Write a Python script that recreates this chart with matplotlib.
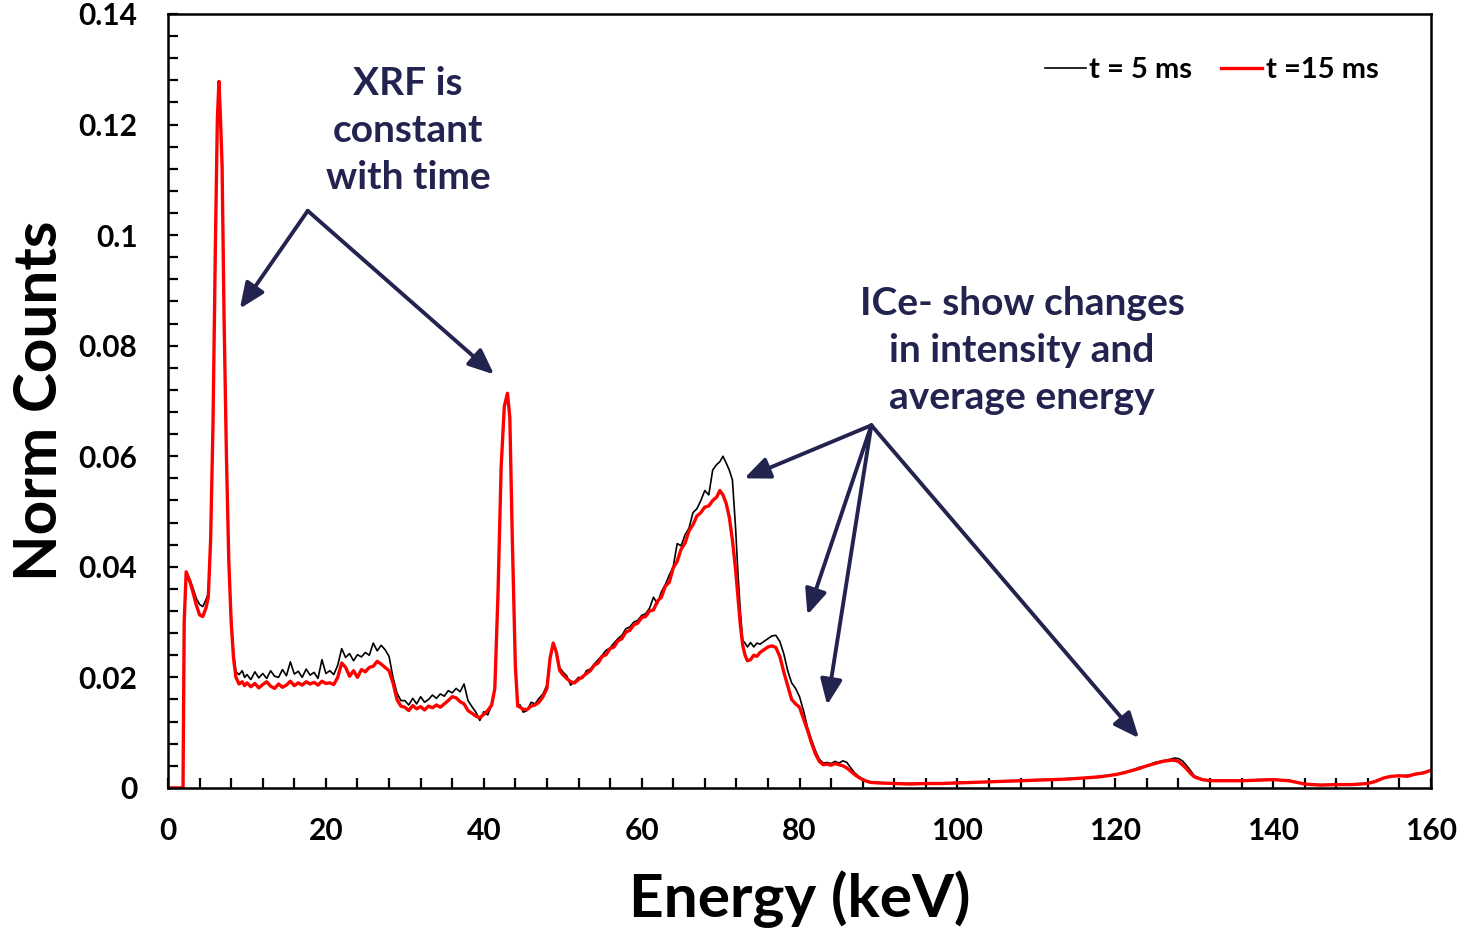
import numpy as np
import matplotlib.pyplot as plt
from matplotlib.ticker import MultipleLocator, FuncFormatter

plt.rcParams['font.family'] = ['Lato', 'DejaVu Sans']
plt.rcParams['font.weight'] = 'bold'
plt.rcParams['axes.labelweight'] = 'bold'

# spectrum channels (keV) and normalised counts for the two exposure times
energy_kev = [
    0.0, 1.9, 2.05, 2.3, 2.8, 3.2, 3.6, 4.0, 4.4, 4.8, 5.1, 5.4, 5.7, 6.0, 6.25, 6.45, 6.65, 6.85, 7.1, 7.4,
    7.7, 8.0, 8.3, 8.6, 9.0, 9.4, 9.7,
    10.0, 10.5, 11.0, 11.5, 12.0, 12.5, 13.0, 13.5, 14.0, 14.5, 15.0, 15.5, 16.0, 16.5, 17.0, 17.5, 18.0, 18.5,
    19.0, 19.5, 20.0, 20.5, 21.0, 21.5, 22.0, 22.5, 23.0, 23.5, 24.0, 24.5, 25.0, 25.5, 26.0, 26.5, 27.0, 27.5,
    28.0, 28.5, 29.0, 29.5,
    30.0, 30.5, 31.0, 31.5, 32.0, 32.5, 33.0, 33.5, 34.0, 34.5, 35.0, 35.5, 36.0, 36.5, 37.0, 37.5, 38.0, 38.5,
    39.0, 39.5, 40.0, 40.5, 41.0,
    41.4, 41.8, 42.2, 42.6, 43.0, 43.3, 43.6, 44.0, 44.3, 44.6, 45.0,
    45.5, 46.0, 46.5, 47.0, 47.5, 48.0, 48.4, 48.8, 49.2, 49.6, 50.0, 50.5, 51.0, 51.5, 52.0, 52.5, 53.0,
    53.5, 54.0, 54.5, 55.0, 55.5, 56.0, 56.5, 57.0, 57.5, 58.0, 58.5, 59.0, 59.5, 60.0, 60.5, 61.0, 61.5, 62.0,
    62.5, 63.0, 63.5, 64.0, 64.5, 65.0, 65.5, 66.0, 66.5, 67.0, 67.5, 68.0, 68.5, 69.0, 69.5,
    69.9, 70.3, 70.7, 71.1, 71.5, 71.9, 72.2, 72.5, 72.8, 73.1, 73.4, 73.8, 74.2, 74.6,
    75.0, 75.5, 76.0, 76.5, 77.0, 77.5, 78.0, 78.5, 79.0, 79.5, 80.0, 80.5, 81.0, 81.5, 82.0, 82.5, 83.0, 83.5,
    84.0, 84.5, 85.0, 85.5, 86.0, 86.5, 87.0, 87.5, 88.0, 88.5, 89.0,
    90, 92, 94, 96, 98, 100, 102, 104, 106, 108, 110, 112, 114, 116, 118, 120, 121, 122, 123, 124, 125, 126,
    127, 127.5, 128, 128.5, 129, 129.5, 130, 131, 132, 134, 136, 138, 140, 142, 144, 146, 148, 150, 152, 153,
    154, 155, 156, 157, 158, 159, 160,
]

counts_5ms = [
    0, 0, 0.0300, 0.0391, 0.0376, 0.0360, 0.0342, 0.0332, 0.0328, 0.0340, 0.0352, 0.0450, 0.0660, 0.0980,
    0.1210, 0.1278, 0.1210, 0.1125, 0.0850, 0.0600, 0.0410, 0.0310, 0.0245, 0.0210, 0.0205, 0.0212, 0.0200,
    0.0205, 0.0196, 0.0210, 0.0199, 0.0207, 0.0198, 0.0212, 0.0202, 0.0200, 0.0214,
    0.0203, 0.0228, 0.0206, 0.0211, 0.0200, 0.0215, 0.0204, 0.0209, 0.0198, 0.0232,
    0.0207, 0.0212, 0.0205, 0.0222, 0.0252, 0.0236, 0.0243, 0.0230, 0.0241, 0.0237,
    0.0245, 0.0240, 0.0262, 0.0248, 0.0258, 0.0250, 0.0238, 0.0200, 0.0172, 0.0158,
    0.0158, 0.0150, 0.0162, 0.0152, 0.0165, 0.0155, 0.0160, 0.0168, 0.0162, 0.0170,
    0.0166, 0.0176, 0.0172, 0.0180, 0.0174, 0.0188, 0.0158, 0.0147, 0.0137, 0.0122,
    0.0138, 0.0132, 0.0150,
    0.0180, 0.0350, 0.0580, 0.0690, 0.0714, 0.0670, 0.0460, 0.0220, 0.0150, 0.0150, 0.0137,
    0.0140, 0.0155, 0.0152, 0.0162, 0.0170, 0.0186, 0.0235, 0.0262, 0.0245, 0.0218, 0.0210, 0.0203, 0.0186,
    0.0192, 0.0200, 0.0198, 0.0212,
    0.0215, 0.0224, 0.0232, 0.0240, 0.0249, 0.0253, 0.0262, 0.0270, 0.0276, 0.0288,
    0.0291, 0.0300, 0.0303, 0.0312, 0.0315, 0.0325, 0.0345, 0.0333, 0.0355, 0.0368,
    0.0385, 0.0400, 0.0442, 0.0438, 0.0458, 0.0470, 0.0498, 0.0505, 0.0520, 0.0538,
    0.0530, 0.0575, 0.0585,
    0.0590, 0.0600, 0.0588, 0.0575, 0.0557, 0.0470, 0.0388, 0.0320, 0.0267, 0.0262, 0.0255, 0.0263, 0.0255,
    0.0262,
    0.0260, 0.0265, 0.0270, 0.0275, 0.0276, 0.0265, 0.0243, 0.0212, 0.0190, 0.0180,
    0.0165, 0.0140, 0.0110, 0.0088, 0.0068, 0.0052, 0.0045, 0.0046, 0.0044, 0.0048,
    0.0045, 0.0049, 0.0046, 0.0036, 0.0027, 0.0021, 0.0016, 0.0013, 0.0011,
    0.0010, 0.0008, 0.0008, 0.0009, 0.0008, 0.0010, 0.0011, 0.0011, 0.0013, 0.0013,
    0.0015, 0.0015, 0.0017, 0.0018, 0.0021,
    0.0024, 0.0028, 0.0031, 0.0037, 0.0040, 0.0046, 0.0049, 0.0052,
    0.0054, 0.0053, 0.0049, 0.0041, 0.0032, 0.0022, 0.0016, 0.0013,
    0.0014, 0.0013, 0.0015, 0.0015, 0.0014, 0.0007, 0.0006, 0.0006, 0.0007, 0.0008,
    0.0013, 0.0018, 0.0022, 0.0021, 0.0023, 0.0024, 0.0028, 0.0032,
]

counts_15ms = [
    0, 0, 0.0300, 0.0391, 0.0372, 0.0352, 0.0330, 0.0313, 0.0310, 0.0325, 0.0345, 0.0450, 0.0660, 0.0980,
    0.1210, 0.1278, 0.1210, 0.1125, 0.0850, 0.0600, 0.0410, 0.0300, 0.0235, 0.0200, 0.0188, 0.0192, 0.0185,
    0.0190, 0.0183, 0.0189, 0.0181, 0.0187, 0.0192, 0.0184, 0.0180, 0.0188, 0.0182,
    0.0186, 0.0193, 0.0185, 0.0190, 0.0186, 0.0192, 0.0188, 0.0191, 0.0186, 0.0193,
    0.0189, 0.0190, 0.0187, 0.0200, 0.0226, 0.0218, 0.0202, 0.0212, 0.0200, 0.0214,
    0.0210, 0.0218, 0.0220, 0.0229, 0.0224, 0.0218, 0.0212, 0.0190, 0.0160, 0.0148,
    0.0146, 0.0140, 0.0149, 0.0143, 0.0147, 0.0141, 0.0148, 0.0145, 0.0150, 0.0146,
    0.0152, 0.0158, 0.0165, 0.0163, 0.0156, 0.0152, 0.0140, 0.0135, 0.0130, 0.0127,
    0.0133, 0.0140, 0.0150,
    0.0180, 0.0350, 0.0580, 0.0690, 0.0714, 0.0670, 0.0460, 0.0220, 0.0148, 0.0146, 0.0142,
    0.0142, 0.0148, 0.0150, 0.0155, 0.0165, 0.0180, 0.0235, 0.0262, 0.0245, 0.0213, 0.0205, 0.0198, 0.0192,
    0.0190, 0.0196, 0.0201, 0.0207,
    0.0212, 0.0222, 0.0226, 0.0238, 0.0241, 0.0252, 0.0255, 0.0266, 0.0270, 0.0282,
    0.0285, 0.0295, 0.0298, 0.0308, 0.0310, 0.0320, 0.0322, 0.0338, 0.0345, 0.0365,
    0.0372, 0.0398, 0.0410, 0.0432, 0.0443, 0.0465, 0.0476, 0.0492, 0.0498, 0.0508,
    0.0510, 0.0520, 0.0526,
    0.0538, 0.0530, 0.0515, 0.0490, 0.0448, 0.0395, 0.0345, 0.0295, 0.0258, 0.0240, 0.0230, 0.0232, 0.0240,
    0.0238,
    0.0245, 0.0250, 0.0255, 0.0257, 0.0254, 0.0238, 0.0210, 0.0185, 0.0160, 0.0152,
    0.0146, 0.0125, 0.0105, 0.0082, 0.0062, 0.0048, 0.0042, 0.0043, 0.0041, 0.0044,
    0.0042, 0.0040, 0.0036, 0.0030, 0.0024, 0.0019, 0.0015, 0.0012, 0.0010,
    0.0009, 0.0008, 0.0007, 0.0008, 0.0008, 0.0009, 0.0010, 0.0011, 0.0012, 0.0013,
    0.0014, 0.0015, 0.0016, 0.0018, 0.0020,
    0.0024, 0.0027, 0.0031, 0.0035, 0.0040, 0.0044, 0.0048, 0.0050,
    0.0050, 0.0048, 0.0042, 0.0035, 0.0027, 0.0020, 0.0015, 0.0013,
    0.0013, 0.0013, 0.0014, 0.0015, 0.0013, 0.0007, 0.0005, 0.0006, 0.0006, 0.0008,
    0.0012, 0.0018, 0.0021, 0.0022, 0.0021, 0.0025, 0.0027, 0.0032,
]

assert len(energy_kev) == len(counts_5ms) == len(counts_15ms)

navy = '#23234f'

fig = plt.figure(figsize=(14.61, 9.33), dpi=100)
ax = fig.add_axes([0.115, 0.1555, 0.8645, 0.8295])

ax.plot(energy_kev, counts_5ms, color='black', lw=1.2, label='t = 5 ms')
ax.plot(energy_kev, counts_15ms, color='red', lw=2.4, label='t =15 ms')

ax.set_xlim(0, 160)
ax.set_ylim(0, 0.14)
ax.xaxis.set_major_locator(MultipleLocator(20))
ax.xaxis.set_minor_locator(MultipleLocator(4))
ax.yaxis.set_major_locator(MultipleLocator(0.02))
ax.yaxis.set_minor_locator(MultipleLocator(0.004))
ax.yaxis.set_major_formatter(FuncFormatter(lambda v, p: '%g' % round(v, 3)))
ax.tick_params(which='both', direction='in', length=7, width=1.6)
ax.tick_params(axis='both', which='major', labelsize=21.5)
ax.tick_params(axis='y', pad=22)
ax.tick_params(axis='x', pad=21)
for s in ax.spines.values():
    s.set_linewidth(1.8)

ax.set_xlabel('Energy (keV)', fontsize=43.5, fontweight='bold', labelpad=18)
ax.set_ylabel('Norm Counts', fontsize=43.5, fontweight='bold', labelpad=8)

ax.legend(loc='upper right', bbox_to_anchor=(0.979, 0.978), ncol=2, frameon=False, fontsize=21,
          handlelength=1.4, handletextpad=0.12, columnspacing=1.0)

# annotations
ax.text(30.4, 0.1189, 'XRF is\nconstant\nwith time', ha='center', va='center', fontsize=28,
        color=navy, linespacing=1.42)
ax.text(108.2, 0.0791, 'ICe- show changes\nin intensity and\naverage energy', ha='center', va='center',
        fontsize=28, color=navy, linespacing=1.42)

arrow = dict(arrowstyle='-|>,head_length=0.7,head_width=0.3', lw=2.8, color=navy,
             shrinkA=0, shrinkB=0, mutation_scale=22)
for tx, ty in [(9.1, 0.0867), (41.3, 0.0748)]:
    ax.annotate('', xy=(tx, ty), xytext=(17.7, 0.1044), arrowprops=arrow)
for tx, ty in [(73.0, 0.0560), (81.0, 0.0313), (83.5, 0.0150), (123.0, 0.0090)]:
    ax.annotate('', xy=(tx, ty), xytext=(89.1, 0.0656), arrowprops=arrow)

plt.savefig('out.png', dpi=100)
